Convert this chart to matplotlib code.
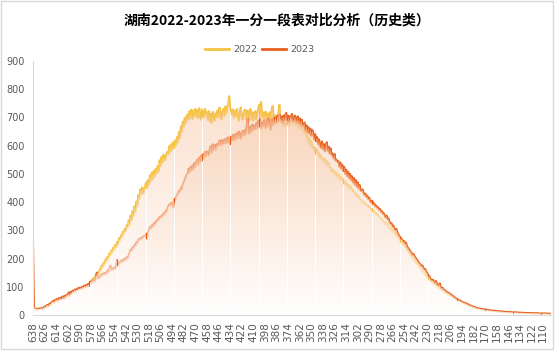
import numpy as np
import matplotlib
matplotlib.use('Agg')
import matplotlib.pyplot as plt
from matplotlib.patches import PathPatch, Rectangle
from matplotlib.lines import Line2D

# ---------------- data ----------------
scores = list(range(638, 101, -1))

y2022 = [
    30, 26, 24, 22, 21, 23, 20, 22, 24, 23,
    22, 25, 28, 26, 32, 35, 30, 38, 36, 42,
    45, 48, 42, 52, 50, 55, 48, 58, 54, 60,
    58, 64, 55, 66, 62, 70, 68, 75, 66, 78,
    74, 85, 80, 88, 84, 90, 86, 93, 90, 95,
    92, 99, 95, 102, 98, 105, 100, 108, 104, 115,
    118, 126, 122, 132, 128, 142, 136, 150, 146, 162,
    158, 175, 168, 185, 180, 196, 190, 205, 200, 218,
    212, 228, 222, 238, 232, 248, 240, 258, 252, 272,
    265, 282, 276, 295, 288, 305, 298, 318, 310, 335,
    320, 352, 335, 368, 350, 385, 366, 402, 385, 425,
    410, 445, 428, 452, 430, 440, 455, 470, 450, 478,
    460, 495, 475, 505, 480, 510, 490, 518, 500, 528,
    508, 548, 528, 560, 540, 568, 548, 552, 570, 578,
    568, 598, 578, 605, 585, 612, 592, 618, 602, 630,
    612, 648, 628, 668, 650, 685, 668, 698, 680, 705,
    710, 692, 722, 700, 728, 695, 722, 705, 730, 702,
    725, 698, 732, 705, 692, 728, 708, 700, 730, 712,
    718, 692, 722, 685, 712, 680, 720, 695, 688, 715,
    700, 725, 702, 735, 710, 692, 722, 730, 705, 738,
    715, 740, 745, 775, 735, 722, 708, 728, 698, 722,
    705, 730, 700, 688, 722, 735, 705, 692, 712, 728,
    720, 695, 725, 682, 710, 730, 692, 718, 688, 712,
    722, 692, 715, 730, 745, 702, 755, 715, 698, 718,
    695, 720, 688, 712, 682, 718, 692, 725, 740, 698,
    682, 708, 678, 702, 718, 745, 695, 680, 700, 672,
    695, 668, 692, 675, 700, 670, 695, 708, 678, 698,
    682, 705, 675, 695, 668, 690, 662, 685, 658, 678,
    665, 645, 660, 630, 635, 610, 625, 600, 615, 592,
    598, 582, 592, 570, 585, 565, 575, 555, 565, 550,
    555, 542, 552, 535, 545, 528, 538, 520, 522, 508,
    508, 514, 498, 506, 492, 500, 485, 494, 478, 486,
    475, 480, 465, 474, 458, 466, 452, 460, 445, 454,
    445, 440, 436, 432, 425, 428, 418, 420, 412, 408,
    404, 398, 402, 394, 396, 388, 390, 382, 385, 376,
    372, 375, 366, 368, 360, 362, 354, 356, 348, 345,
    340, 338, 335, 328, 330, 322, 325, 316, 312, 308,
    302, 304, 295, 298, 288, 290, 282, 278, 272, 268,
    262, 258, 255, 248, 250, 240, 238, 230, 225, 218,
    215, 210, 205, 200, 196, 192, 186, 182, 178, 172,
    168, 164, 160, 155, 150, 146, 142, 138, 132, 128,
    125, 122, 118, 116, 112, 110, 106, 104, 100, 98,
    96, 94, 90, 88, 86, 82, 80, 78, 76, 74,
    72, 70, 68, 66, 63, 61, 58, 56, 54, 52,
    50, 48, 47, 45, 44, 42, 40, 39, 37, 36,
    34, 33, 31, 30, 29, 28, 27, 25, 24, 23,
    22, 22, 21, 20, 20, 19, 18, 18, 17, 17,
    16, 16, 15, 15, 15, 14, 14, 14, 13, 13,
    13, 12, 12, 12, 11, 11, 11, 11, 10, 10,
    10, 10, 9, 9, 9, 9, 9, 8, 8, 8,
    8, 8, 8, 7, 7, 7, 7, 7, 7, 7,
    7, 6, 6, 6, 6, 6, 6, 6, 6, 6,
    6, 5, 5, 5, 5, 5, 5, 5, 5, 5,
    5, 5, 4, 4, 4, 4, 4,
]

y2023 = [
    250, 25, 22, 21, 20, 22, 21, 23, 22, 24,
    21, 24, 30, 27, 33, 36, 31, 40, 37, 44,
    46, 50, 44, 54, 52, 57, 50, 60, 55, 62,
    60, 66, 57, 68, 64, 72, 70, 80, 68, 82,
    76, 86, 81, 90, 85, 92, 88, 96, 91, 97,
    93, 100, 96, 104, 99, 106, 101, 110, 103, 118,
    114, 120, 116, 124, 118, 126, 150, 130, 128, 138,
    135, 145, 140, 148, 144, 150, 146, 158, 152, 162,
    175, 158, 165, 160, 168, 164, 172, 195, 176, 182,
    185, 192, 188, 196, 190, 200, 195, 205, 200, 212,
    220, 232, 226, 240, 236, 248, 244, 258, 254, 268,
    265, 272, 268, 276, 274, 280, 278, 288, 270, 292,
    300, 312, 306, 318, 312, 325, 320, 332, 328, 340,
    336, 348, 344, 352, 348, 360, 356, 368, 364, 378,
    385, 392, 388, 398, 394, 380, 410, 404, 418, 425,
    430, 440, 436, 450, 446, 462, 470, 478, 488, 498,
    500, 518, 505, 525, 512, 530, 515, 538, 525, 545,
    550, 532, 558, 542, 565, 548, 570, 555, 578, 562,
    580, 572, 565, 590, 598, 575, 605, 585, 602, 585,
    605, 598, 608, 618, 600, 620, 605, 612, 622, 608,
    625, 610, 630, 612, 605, 632, 618, 638, 620, 640,
    622, 645, 628, 650, 632, 625, 648, 652, 635, 655,
    640, 665, 695, 648, 642, 668, 650, 675, 655, 670,
    658, 680, 662, 688, 668, 695, 660, 682, 668, 690,
    672, 662, 690, 668, 695, 675, 655, 692, 672, 698,
    678, 700, 682, 705, 685, 710, 690, 702, 680, 706,
    690, 708, 716, 692, 706, 684, 704, 688, 712, 690,
    685, 706, 690, 682, 704, 678, 696, 674, 692, 668,
    675, 682, 655, 672, 648, 665, 642, 660, 635, 655,
    645, 622, 640, 615, 630, 605, 622, 600, 592, 615,
    588, 605, 580, 600, 612, 582, 596, 572, 590, 566,
    572, 555, 570, 548, 550, 542, 545, 525, 540, 518,
    532, 510, 525, 500, 515, 492, 508, 485, 500, 478,
    492, 470, 485, 462, 478, 455, 470, 448, 460, 440,
    440, 445, 432, 425, 430, 418, 422, 410, 415, 402,
    398, 405, 392, 395, 385, 388, 380, 382, 372, 376,
    365, 368, 358, 360, 350, 345, 352, 338, 342, 328,
    322, 325, 312, 316, 305, 300, 305, 292, 285, 280,
    275, 270, 268, 260, 262, 252, 256, 242, 238, 232,
    228, 222, 218, 212, 215, 206, 202, 196, 192, 186,
    182, 178, 172, 175, 166, 160, 162, 152, 148, 140,
    138, 130, 126, 122, 125, 118, 114, 120, 110, 106,
    104, 112, 98, 94, 96, 90, 88, 85, 82, 80,
    78, 76, 74, 71, 68, 66, 63, 61, 58, 56,
    54, 52, 51, 49, 47, 45, 44, 42, 41, 40,
    38, 36, 34, 33, 32, 30, 29, 28, 26, 25,
    24, 23, 23, 22, 21, 21, 20, 20, 19, 19,
    18, 17, 17, 16, 16, 16, 15, 15, 14, 14,
    14, 13, 13, 13, 12, 12, 12, 12, 11, 11,
    11, 11, 10, 10, 10, 10, 9, 9, 9, 9,
    9, 9, 8, 8, 8, 8, 8, 8, 7, 7,
    7, 7, 7, 7, 7, 6, 6, 6, 6, 6,
    6, 6, 6, 5, 5, 5, 5, 5, 5, 5,
    5, 5, 5, 4, 4, 4, 4,
]

series_names = ['2022', '2023']
title = '湖南2022-2023年一分一段表对比分析（历史类）'

# ---------------- style ----------------
C22 = '#F6C242'
C23 = '#E8601C'
PEACH = np.array([248, 200, 166]) / 255.0
WHITE = np.array([255, 255, 255]) / 255.0
FILL_ALPHA = 0.55
AX_GRAY = '#D9D9D9'
TXT_GRAY = '#595959'
CJK = ['Noto Sans CJK SC', 'DejaVu Sans']

W_PX, H_PX = 555, 358
fig = plt.figure(figsize=(W_PX / 100, H_PX / 100), dpi=100)
fig.patch.set_facecolor('white')

ax = fig.add_axes([33 / W_PX, 1 - 315 / H_PX, (551 - 33) / W_PX, (315 - 61) / H_PX])
N = len(scores)
x = np.arange(N)

ax.plot(x, y2022, color=C22, lw=1.5, zorder=2)
ax.plot(x, y2023, color=C23, lw=1.5, zorder=2)

# rendering gaps in the area fills (vertical white streaks)
gap_first, gap_step = 29.3, 29.25
gaps = []
g = gap_first
while g < N - 1:
    gaps.append(g)
    g += gap_step


def gradient_area(yvals, z):
    top = max(yvals)
    H, Wc = 256, 2600
    frac = np.linspace(0, 1, H)[:, None]
    rgb = WHITE + (PEACH - WHITE) * frac
    img = np.zeros((H, Wc, 4))
    img[..., :3] = rgb[:, None, :]
    img[..., 3] = FILL_ALPHA
    cols = np.linspace(0, N - 1, Wc)
    for gg in gaps:
        img[:, np.abs(cols - gg) < 0.5, 3] = 0.0
    poly = ax.fill_between(x, yvals, 0, facecolor='none', edgecolor='none', lw=0)
    path = poly.get_paths()[0]
    patch = PathPatch(path, transform=ax.transData, facecolor='none', edgecolor='none', lw=0)
    ax.add_patch(patch)
    im = ax.imshow(img, extent=(0, N - 1, 0, top), origin='lower', aspect='auto',
                   interpolation='nearest', zorder=z)
    im.set_clip_path(patch)


gradient_area(y2023, 3)
gradient_area(y2022, 3.1)

ax.set_xlim(0, N - 1)
ax.set_ylim(0, 900)

ax.set_yticks(np.arange(0, 901, 100))
ax.set_yticklabels([str(v) for v in range(0, 901, 100)])
tick_idx = list(range(0, N, 12))
ax.set_xticks(tick_idx)
ax.set_xticklabels([str(scores[i]) for i in tick_idx], rotation=90)

ax.tick_params(axis='y', length=0, pad=6, labelsize=7, labelcolor=TXT_GRAY)
ax.tick_params(axis='x', length=0, pad=5, labelsize=7.5, labelcolor=TXT_GRAY)
for lab in ax.get_xticklabels() + ax.get_yticklabels():
    lab.set_family('DejaVu Sans')

for s in ['top', 'right']:
    ax.spines[s].set_visible(False)
for s in ['left', 'bottom']:
    ax.spines[s].set_color(AX_GRAY)
    ax.spines[s].set_linewidth(0.8)
ax.set_facecolor('none')

# title
fig.text(277 / W_PX, 1 - 21 / H_PX, title, ha='center', va='center',
         fontsize=10, fontweight='bold', family=CJK, color='black')

# legend
handles = [Line2D([], [], color=C22, lw=2), Line2D([], [], color=C23, lw=2)]
fig.legend(handles, series_names, loc='center', bbox_to_anchor=(260 / W_PX, 1 - 50 / H_PX),
           ncol=2, frameon=False, labelcolor=TXT_GRAY,
           handlelength=2.5, handletextpad=0.5, columnspacing=0.5,
           prop={'family': 'DejaVu Sans', 'size': 6.8})

# chart border
fig.patches.append(Rectangle((0.5 / W_PX, 1 - 349 / H_PX), 552.5 / W_PX, 348.5 / H_PX,
                             transform=fig.transFigure, fill=False,
                             edgecolor=AX_GRAY, lw=1))

fig.savefig('out.png', dpi=100, facecolor='white')
